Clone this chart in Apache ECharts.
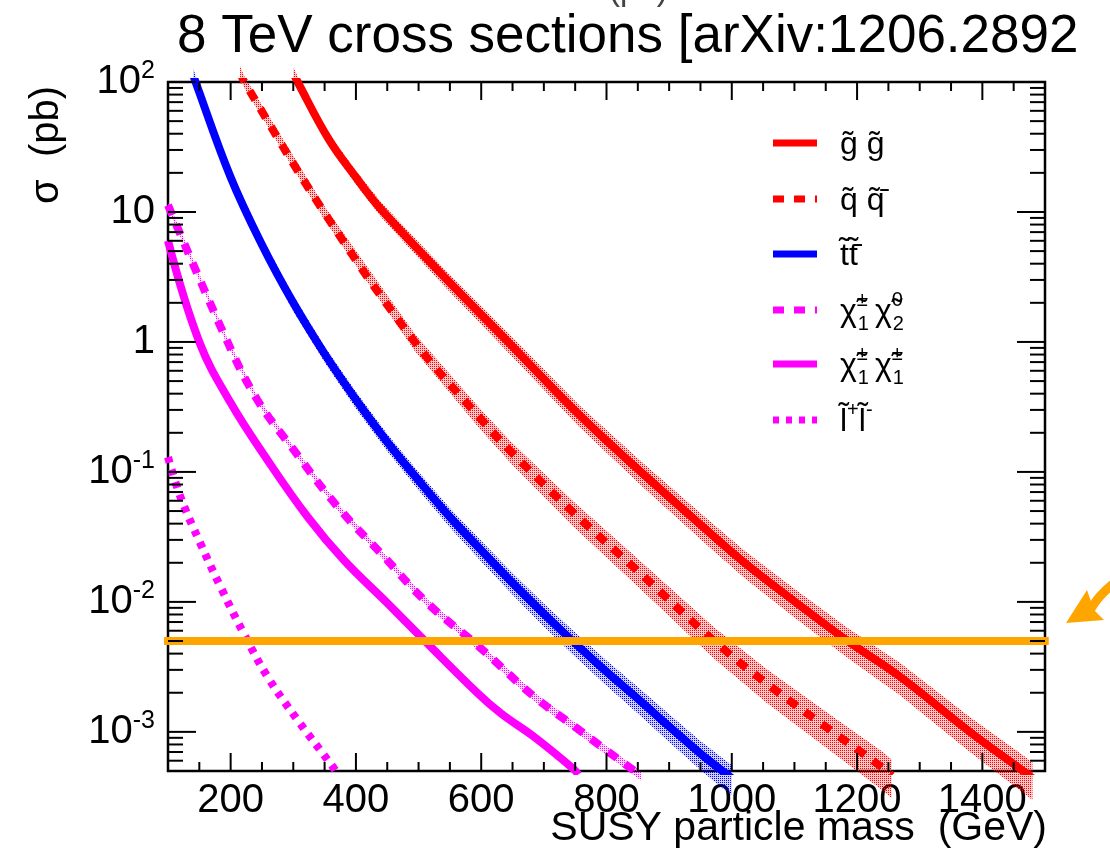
<!DOCTYPE html>
<html><head><meta charset="utf-8">
<script src="https://cdn.jsdelivr.net/npm/echarts@6/dist/echarts.min.js"></script>
<style>html,body{margin:0;padding:0;background:#fff}#c{width:1110px;height:853px}</style>
</head><body><div id="c"></div>
<script>
// ---------------- data ----------------
const xTickLabels = [200, 400, 600, 800, 1000, 1200, 1400];
const yTickLabels = [0.001, 0.01, 0.1, 1, 10, 100];

const gluinoMass = [300, 307, 357, 400, 440, 540, 643, 757, 860, 966, 1022, 1100, 1185, 1269, 1380, 1465, 1480];
const gluinoXs   = [118, 100, 36, 18.5, 10.5, 3.2, 1.0, 0.273, 0.095, 0.0336, 0.0197, 0.0101, 0.0050, 0.00265, 0.0010, 0.00050, 0.00044];
const gluinoUnc  = [0.10, 0.10, 0.11, 0.12, 0.13, 0.15, 0.17, 0.19, 0.21, 0.23, 0.24, 0.25, 0.26, 0.28, 0.30, 0.32, 0.32];

const squarkMass = [215, 222, 349, 494, 600, 648, 746, 846, 972, 1056, 1165, 1243, 1255];
const squarkXs   = [120, 100, 10, 1.0, 0.254, 0.1426, 0.0492, 0.018, 0.0050, 0.00235, 0.00097, 0.00052, 0.00046];
const squarkUnc  = [0.10, 0.10, 0.12, 0.15, 0.18, 0.19, 0.22, 0.24, 0.27, 0.29, 0.31, 0.33, 0.33];

const stopMass = [140, 144, 200, 250, 300, 350, 400, 450, 500, 550, 600, 650, 700, 750, 800, 850, 900, 950, 985, 1000];
const stopXs   = [115, 100, 18.5, 5.6, 2.0, 0.81, 0.36, 0.17, 0.086, 0.045, 0.025, 0.014, 0.0081, 0.0048, 0.0029, 0.0018, 0.0011, 0.00068, 0.0005, 0.00044];
const stopUnc  = [0.12, 0.12, 0.13, 0.13, 0.14, 0.14, 0.15, 0.15, 0.16, 0.17, 0.18, 0.19, 0.20, 0.21, 0.22, 0.23, 0.24, 0.25, 0.26, 0.26];

const c1n2Mass = [100, 195, 243, 301, 371, 440, 515, 597, 685, 749, 800, 845, 855];
const c1n2Xs   = [11.3, 1.0, 0.356, 0.147, 0.0537, 0.0236, 0.0097, 0.0045, 0.00186, 0.0011, 0.00072, 0.0005, 0.00046];
const c1n2Unc  = [0.06, 0.06, 0.06, 0.06, 0.06, 0.06, 0.07, 0.07, 0.08, 0.08, 0.08, 0.08, 0.08];

const c1c1Mass = [100, 150, 200, 259, 323, 381, 451, 512, 595, 632, 685, 747, 755];
const c1c1Xs   = [6.0, 1.0, 0.34, 0.123, 0.045, 0.0209, 0.0097, 0.0049, 0.00197, 0.00138, 0.00091, 0.00052, 0.00047];

const slepMass = [100, 120, 152, 184, 221, 259, 307, 363, 370];
const slepXs   = [0.13, 0.064, 0.028, 0.013, 0.0057, 0.00265, 0.00123, 0.00054, 0.00048];

const limitMass = [92, 1506];
const limitXs   = [0.005, 0.005];

// ---------------- chart ----------------
const FONT = '"Liberation Sans", Arial, Helvetica, sans-serif';
const XMIN = 100, XMAX = 1500, YMIN = 5e-4, YMAX = 100;
const RED = '#ff0000', BLUE = '#0000ff', MAG = '#ff00ff', ORANGE = '#ffa500';

function pattern(color, faint) {
  const c = document.createElement('canvas');
  c.width = 2; c.height = 2;
  const g = c.getContext('2d');
  g.fillStyle = faint; g.fillRect(0, 0, 2, 2);
  g.fillStyle = color; g.fillRect(0, 0, 1, 1);
  return { image: c, repeat: 'repeat' };
}

function pairs(m, v) { return m.map((x, i) => [x, v[i]]); }

function lineSeries(name, mass, xs, color, type) {
  return {
    name: name, type: 'line', data: pairs(mass, xs), symbol: 'none', showSymbol: false,
    smooth: 0.4, z: 5, animation: false,
    lineStyle: { color: color, width: 8, type: type, cap: 'butt' },
    itemStyle: { color: color }
  };
}

function bandSeries(mass, xs, unc, color, faint) {
  return {
    type: 'custom', coordinateSystem: 'cartesian2d', silent: true, z: 2, animation: false,
    data: [[mass[0], xs[0]]],
    renderItem: function (params, api) {
      const up = [], lo = [];
      for (let i = 0; i < mass.length; i++) {
        up.push(api.coord([mass[i], xs[i] * (1 + unc[i])]));
        lo.push(api.coord([mass[i], xs[i] * (1 - unc[i])]));
      }
      return { type: 'polygon', shape: { points: up.concat(lo.reverse()) }, style: { fill: pattern(color, faint) } };
    }
  };
}

// tick values (axis decoration)
const yTickData = [];
for (let e = -4; e <= 2; e++) {
  for (let k = 1; k <= 9; k++) {
    const v = k * Math.pow(10, e);
    if (v > YMIN * 1.0001 && v <= YMAX * 1.0001) yTickData.push([XMIN, v, k === 1 ? 1 : 0]);
  }
}
const xTickData = [];
for (let v = 150; v < XMAX; v += 50) xTickData.push([v, YMIN, xTickLabels.indexOf(v) >= 0 ? 1 : 0]);

const tickSeries = [
  {
    type: 'custom', coordinateSystem: 'cartesian2d', silent: true, z: 10, clip: false, animation: false,
    data: yTickData, encode: { x: 0, y: 1 },
    renderItem: function (params, api) {
      const v = api.value(1), major = api.value(2);
      const pl = api.coord([XMIN, v]), pr = api.coord([XMAX, v]);
      const len = major ? 28 : 15;
      return { type: 'group', children: [
        { type: 'line', shape: { x1: pl[0], y1: pl[1], x2: pl[0] + len, y2: pl[1] }, style: { stroke: '#000', lineWidth: 2 } },
        { type: 'line', shape: { x1: pr[0], y1: pr[1], x2: pr[0] - len, y2: pr[1] }, style: { stroke: '#000', lineWidth: 2 } }
      ] };
    }
  },
  {
    type: 'custom', coordinateSystem: 'cartesian2d', silent: true, z: 10, clip: false, animation: false,
    data: xTickData, encode: { x: 0, y: 1 },
    renderItem: function (params, api) {
      const v = api.value(0), major = api.value(2);
      const pb = api.coord([v, YMIN]), pt = api.coord([v, YMAX]);
      const len = major ? 18 : 9;
      return { type: 'group', children: [
        { type: 'line', shape: { x1: pb[0], y1: pb[1], x2: pb[0], y2: pb[1] - len }, style: { stroke: '#000', lineWidth: 2 } },
        { type: 'line', shape: { x1: pt[0], y1: pt[1], x2: pt[0], y2: pt[1] + len }, style: { stroke: '#000', lineWidth: 2 } }
      ] };
    }
  }
];

// legend (drawn as graphic elements so that rows keep the reference spacing)
const legendRows = [
  { text: '{m|g\u0303 g\u0303}', color: RED, dash: null },
  { text: '{m|q\u0303 q\u0303\u0304}', color: RED, dash: [11, 10] },
  { text: '{m|t\u0303t\u0303\u0304}', color: BLUE, dash: null },
  { text: '{m|\u03c7\u0303}{sup|\u00b1}{sub|1}{gap|}{m|\u03c7\u0303}{sup|0}{sub|2}', color: MAG, dash: [11, 10] },
  { text: '{m|\u03c7\u0303}{sup|\u00b1}{sub|1}{gap|}{m|\u03c7\u0303}{sup|\u00b1}{sub|1}', color: MAG, dash: null },
  { text: '{m|l\u0303}{supn|+}{m|l\u0303}{supn|-}', color: MAG, dash: [6, 7] }
];
const legendRich = {
  gap: { width: 6, height: 44 },
  m: { fontFamily: FONT, fontSize: 32, lineHeight: 44, fill: '#000' },
  sup: { fontFamily: FONT, fontSize: 20, lineHeight: 22, verticalAlign: 'top', fill: '#000', width: 1 },
  supn: { fontFamily: FONT, fontSize: 20, lineHeight: 22, verticalAlign: 'top', fill: '#000' },
  sub: { fontFamily: FONT, fontSize: 20, lineHeight: 22, verticalAlign: 'bottom', fill: '#000' }
};
const legendY = [143, 199, 254, 310, 364, 420];
const legendGraphics = [];
legendRows.forEach(function (r, i) {
  legendGraphics.push({ type: 'line', shape: { x1: 773, y1: legendY[i], x2: 817, y2: legendY[i] },
    style: { stroke: r.color, lineWidth: 7, lineDash: r.dash || null } });
  legendGraphics.push({ type: 'text', x: 840, y: legendY[i] + 2,
    style: { text: r.text, rich: legendRich, fill: '#000', align: 'left', verticalAlign: 'middle', font: '32px ' + FONT } });
});

const chart = echarts.init(document.getElementById('c'), null, { renderer: 'canvas' });
chart.setOption({
  animation: false,
  backgroundColor: '#fff',
  title: {
    text: '8 TeV cross sections [arXiv:1206.2892', left: 172, top: 6,
    textStyle: { fontFamily: FONT, fontSize: 53, fontWeight: 'normal', color: '#000' }
  },
  grid: { left: 168, right: 65, top: 82, bottom: 82, show: true, borderColor: '#000', borderWidth: 2.5, backgroundColor: 'transparent', containLabel: false, outerBoundsMode: 'none' },
  xAxis: {
    type: 'value', min: XMIN, max: XMAX, interval: 100,
    axisLine: { show: false }, axisTick: { show: false }, splitLine: { show: false },
    axisLabel: {
      margin: 10, color: '#000', fontFamily: FONT, fontSize: 40,
      formatter: function (v) { return xTickLabels.indexOf(v) >= 0 ? String(v) : ''; }
    }
  },
  yAxis: {
    type: 'log', logBase: 10, min: YMIN, max: YMAX,
    axisLine: { show: false }, axisTick: { show: false }, splitLine: { show: false }, minorTick: { show: false },
    axisLabel: {
      margin: 13, color: '#000',
      formatter: function (v) {
        const e = Math.round(Math.log10(v));
        if (Math.abs(Math.log10(v) - e) > 1e-6) return '';
        if (e === 0) return '{b|1}';
        if (e === 1) return '{b|10}';
        return '{b|10}{sup|' + e + '}';
      },
      rich: {
        b: { fontFamily: FONT, fontSize: 40, color: '#000', lineHeight: 46 },
        sup: { fontFamily: FONT, fontSize: 25, color: '#000', verticalAlign: 'top', lineHeight: 25 }
      }
    }
  },
  graphic: [
    { type: 'text', x: 47, y: 145, rotation: Math.PI / 2, style: { text: '\u03c3  (pb)', font: '40px ' + FONT, fill: '#000', align: 'center', verticalAlign: 'middle' } },
    { type: 'text', x: 1047, y: 829, style: { text: 'SUSY particle mass  (GeV)', font: '41px ' + FONT, fill: '#000', align: 'right', verticalAlign: 'middle' } },
    { type: 'text', x: 510, y: -9, style: { text: 'SUSY (pb)', font: '33px ' + FONT, fill: '#444', align: 'left', verticalAlign: 'middle' } },
    { type: 'bezierCurve', shape: { x1: 1091, y1: 609, x2: 1125, y2: 575, cpx1: 1100, cpy1: 592 }, style: { stroke: ORANGE, lineWidth: 9, fill: 'none' } },
    { type: 'polygon', shape: { points: [[1066, 623], [1087, 590], [1094, 610], [1104, 620]] }, style: { fill: ORANGE } }
  ].concat(legendGraphics),
  series: [
    bandSeries(gluinoMass, gluinoXs, gluinoUnc, RED, 'rgba(255,0,0,0.22)'),
    bandSeries(squarkMass, squarkXs, squarkUnc, RED, 'rgba(255,0,0,0.22)'),
    bandSeries(stopMass, stopXs, stopUnc, BLUE, 'rgba(0,0,255,0.18)'),
    bandSeries(c1n2Mass, c1n2Xs, c1n2Unc, MAG, 'rgba(255,0,255,0.15)'),
    lineSeries('gluino', gluinoMass, gluinoXs, RED, 'solid'),
    lineSeries('squark', squarkMass, squarkXs, RED, [11, 10]),
    lineSeries('stop', stopMass, stopXs, BLUE, 'solid'),
    lineSeries('c1n2', c1n2Mass, c1n2Xs, MAG, [11, 10]),
    lineSeries('c1c1', c1c1Mass, c1c1Xs, MAG, 'solid'),
    lineSeries('slepton', slepMass, slepXs, MAG, [6, 7]),
    {
      name: 'limit', type: 'line', data: pairs(limitMass, limitXs), symbol: 'none', clip: false, z: 6,
      lineStyle: { color: ORANGE, width: 8, cap: 'butt' }, itemStyle: { color: ORANGE }
    }
  ].concat(tickSeries)
});
</script>
</body></html>
